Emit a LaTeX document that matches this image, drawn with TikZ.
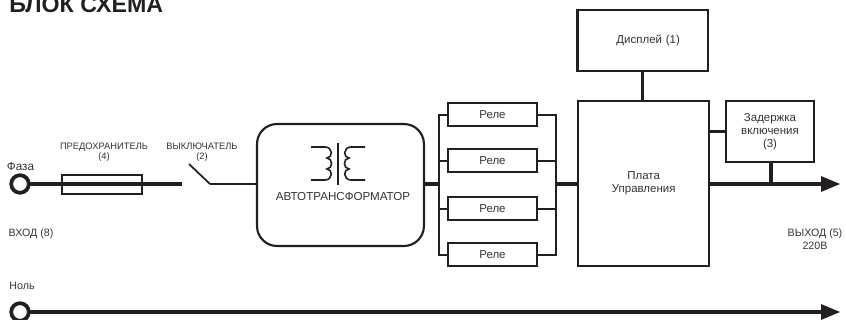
\documentclass[tikz,border=0pt]{standalone}
\usepackage{fontspec}
\setmainfont{Liberation Sans}
\usetikzlibrary{calc}
\definecolor{ink}{HTML}{231F20}
\definecolor{txt}{HTML}{333333}
\tikzset{
  box/.style={draw=ink,line width=1.6pt,fill=white,inner sep=0pt,outer sep=0pt,align=center,text=txt,font=\fontsize{8.6}{10}\selectfont},
  lbl/.style={inner sep=0pt,outer sep=0pt,align=center,text=txt,font=\fontsize{7}{7.8}\selectfont},
  biglbl/.style={lbl,font=\fontsize{8}{9.6}\selectfont},
  heavy/.style={draw=ink,line width=2.3pt},
  thin/.style={draw=ink,line width=1.3pt},
  bus/.style={draw=ink,line width=1.6pt},
  term/.style={circle,draw=ink,line width=2.8pt,fill=white,minimum size=13.2pt,inner sep=0pt,outer sep=0pt},
  head/.style={fill=ink,draw=none}
}
\begin{document}
\begin{tikzpicture}[x=0.75pt,y=-0.75pt]
\useasboundingbox (0,0) rectangle (846,320);
\clip (0,0) rectangle (846,320);
% title
\node[anchor=base west,inner sep=0pt,text=ink,font=\fontsize{17.4}{20}\bfseries\selectfont] (title) at (9,13) {БЛОК СХЕМА};
% coordinates
\coordinate (wireend) at (182,184);
\coordinate (swA) at (189,164);
\coordinate (swB) at (210,184);
\coordinate (tipA) at (840,184);
\coordinate (bodyA) at (821,184);
\coordinate (tipB) at (840,312);
\coordinate (bodyB) at (821,312);
\coordinate (busL) at (439,184);
\coordinate (busR) at (556,184);
\coordinate (tap) at (771,184);
% terminals
\node[term] (fazaT) at (20,184) {};
\node[term] (nolT) at (20,312) {};
% main wires
\node[draw=ink,line width=1.5pt,minimum width=60pt,minimum height=14.2pt,inner sep=0pt,outer sep=0pt,anchor=north west] (fuse) at (62,175) {};
\draw[heavy] (fazaT.east) -- (wireend);
\draw[thin] (swA) -- (swB);
% autotransformer
\node[box,rounded corners=15pt,minimum width=125.2pt,minimum height=91.5pt,anchor=north west] (auto) at (257,124) {};
\draw[thin] (swB) -- (swB -| auto.west);
% relays
\foreach \n/\y in {a/103,b/149,c/197,d/243}{
  \node[box,minimum width=66.7pt,minimum height=17.5pt,anchor=north west] (r\n) at (448,\y) {Реле};
}
% plate, display, delay
\node[box,minimum width=98.5pt,minimum height=123.7pt,anchor=north west] (plate) at (578,101) {Плата\\Управления};
\node[box,minimum width=98pt,minimum height=46pt,anchor=north west,text width=98pt] (disp) at (577.5,10) {\hspace*{8pt}Дисплей (1)};
\node[box,minimum width=66pt,minimum height=46pt,anchor=north west] (delay) at (726,101) {Задержка\\включения\\(3)};
% bus connections
\draw[bus] (ra.west) -- (ra.west -| busL) -- (rd.west -| busL) -- (rd.west);
\draw[bus] (rb.west) -- (rb.west -| busL);
\draw[bus] (rc.west) -- (rc.west -| busL);
\draw[bus] (ra.east) -- (ra.east -| busR) -- (rd.east -| busR) -- (rd.east);
\draw[bus] (rb.east) -- (rb.east -| busR);
\draw[bus] (rc.east) -- (rc.east -| busR);
\draw[heavy] (auto.east |- busL) -- (busL);
\draw[heavy] (busR) -- (plate.west |- busR);
\draw[heavy] (disp.south) -- (plate.north -| disp.south);
\draw[heavy] (plate.east |- delay.west) -- (delay.west);
\draw[heavy] (plate.east |- tipA) -- (bodyA);
\draw[heavy] (delay.south -| tap) -- (tap);
\draw[heavy] (nolT.east) -- (bodyB);
\fill[head] (tipA) -- ($(bodyA)+(0,-8)$) -- ($(bodyA)+(0,8)$) -- cycle;
\fill[head] (tipB) -- ($(bodyB)+(0,-8)$) -- ($(bodyB)+(0,8)$) -- cycle;
% transformer symbol
\draw[ink,line width=1pt] (338,143) -- (338,185);
\draw[ink,line width=1.2pt] (311,147) -- (325,147)
  .. controls (333,147) and (333,158) .. (327,158)
  .. controls (333,158) and (333,169) .. (327,169)
  .. controls (333,169) and (333,180) .. (325,180) -- (311,180);
\draw[ink,line width=1.2pt] (365,147) -- (351,147)
  .. controls (343,147) and (343,158) .. (349,158)
  .. controls (343,158) and (343,169) .. (349,169)
  .. controls (343,169) and (343,180) .. (351,180) -- (365,180);
% labels
\node[lbl,font=\fontsize{8.7}{10}\selectfont] (autolbl) at (343,197) {АВТОТРАНСФОРМАТОР};
\node[lbl] (fuselbl) at (104,152) {ПРЕДОХРАНИТЕЛЬ\\(4)};
\node[lbl] (swlbl) at (202,152) {ВЫКЛЮЧАТЕЛЬ\\(2)};
\node[biglbl,font=\fontsize{8.8}{10}\selectfont] (fazal) at (20.5,166) {Фаза};
\node[biglbl] (vhod) at (31,234) {ВХОД (8)};
\node[biglbl] (nol) at (22,286) {Ноль};
\node[biglbl] (vyhod) at (815,239.5) {ВЫХОД (5)\\220В};
\end{tikzpicture}
\end{document}
